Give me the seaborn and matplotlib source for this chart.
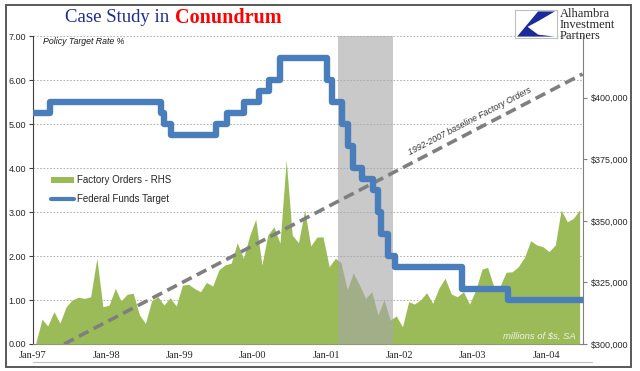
import numpy as np
import pandas as pd
import matplotlib
matplotlib.use("Agg")
import matplotlib.pyplot as plt
import matplotlib.dates as mdates
import matplotlib.ticker as mticker
from matplotlib.patches import Rectangle, Polygon, Patch
from matplotlib.lines import Line2D
import seaborn as sns

# ── Data ──────────────────────────────────────────────────────────────────────
# Monthly factory orders (millions of $, SA), Jan-97 .. Jun-04
factory_orders = [
    300.5, 310.1, 307.3, 313.1, 308.5, 315.1, 317.9, 319.0, 318.5, 319.2, 334.8, 315.1,
    315.8, 322.6, 317.5, 320.2, 320.6, 311.8, 308.4, 317.6, 319.2, 315.8, 318.8, 315.4,
    323.9, 324.2, 322.6, 321.2, 325.0, 323.5, 330.0, 332.1, 332.8, 341.1, 334.8, 343.8,
    350.6, 332.1, 344.2, 347.6, 340.9, 374.7, 344.2, 341.1, 354.4, 339.8, 343.4, 343.5,
    331.4, 334.8, 333.0, 321.9, 328.9, 323.9, 318.5, 321.2, 311.8, 317.9, 309.7, 311.4,
    307.0, 317.2, 316.2, 317.9, 320.8, 316.5, 322.6, 326.7, 320.3, 319.2, 321.2, 316.2,
    321.9, 330.4, 331.1, 323.3, 323.3, 329.1, 329.3, 331.4, 335.2, 341.9, 340.2, 339.5,
    337.5, 340.2, 354.4, 349.6, 351.0, 354.4,
]
factory_orders = [v * 1000 for v in factory_orders]

# Federal funds target rate: change dates and new levels
ff_dates = [
    "1997-01-01", "1997-03-25", "1998-09-29", "1998-10-15", "1998-11-17",
    "1999-06-30", "1999-08-24", "1999-11-16", "2000-02-02", "2000-03-21",
    "2000-05-16", "2001-01-03", "2001-01-31", "2001-03-20", "2001-04-18",
    "2001-05-15", "2001-06-27", "2001-08-21", "2001-09-17", "2001-10-02",
    "2001-11-06", "2001-12-11", "2002-11-06", "2003-06-25", "2004-07-01",
]
ff_rates = [
    5.25, 5.50, 5.25, 5.00, 4.75,
    5.00, 5.25, 5.50, 5.75, 6.00,
    6.50, 6.00, 5.50, 5.00, 4.50,
    4.00, 3.75, 3.50, 3.00, 2.50,
    2.00, 1.75, 1.25, 1.00, 1.00,
]

# 1992-2007 baseline trend for factory orders (two end points)
baseline_dates = ["1997-06-05", "2004-06-30"]
baseline_vals = [300000, 409600]

# NBER recession
recession = ("2001-03-01", "2001-12-01")

left_ticks = [0, 1, 2, 3, 4, 5, 6, 7]
right_ticks = [300000, 325000, 350000, 375000, 400000]

# ── Colours ───────────────────────────────────────────────────────────────────
GREEN = "#9BBB59"
BLUE = "#4A7EBB"
GREY_DASH = "#7F7F7F"

sns.set_style("white")
plt.rcParams["font.family"] = ["Liberation Sans", "DejaVu Sans"]

fo = pd.DataFrame({
    "date": pd.date_range("1997-01-01", periods=len(factory_orders), freq="MS") + pd.Timedelta(days=14),
    "orders": factory_orders,
})
ff = pd.DataFrame({"date": pd.to_datetime(ff_dates), "rate": ff_rates})
base = pd.DataFrame({"date": pd.to_datetime(baseline_dates), "val": baseline_vals})

fig = plt.figure(figsize=(6.4, 3.71), dpi=100)
ax = fig.add_axes([0.0516, 0.0728, 0.859, 0.830])   # left scale: gridlines + ticks
ax2 = ax.twinx()                                     # right scale: orders, shade, baseline
ax3 = ax.twinx()                                     # left scale again: fed funds on top

x0, x1 = pd.Timestamp("1997-01-01"), pd.Timestamp("2004-07-01")

# background grid on the left scale
ax.set_ylim(0, 7)
ax.set_yticks(left_ticks)
ax.yaxis.set_major_formatter(mticker.FormatStrFormatter("%.2f"))
ax.grid(axis="y", color="#A6A6A6", linestyle=(0, (2, 2)), linewidth=0.6)
ax.grid(axis="x", visible=False)

# factory orders area
ax2.fill_between(fo["date"], 300000, fo["orders"], color=GREEN, linewidth=0, zorder=1)
ax2.axvspan(pd.Timestamp(recession[0]), pd.Timestamp(recession[1]),
            color="#A6A6A6", alpha=0.6, linewidth=0, zorder=2)
sns.lineplot(data=base, x="date", y="val", ax=ax2, color=GREY_DASH,
             linewidth=2.6, linestyle=(0, (3, 1.6)), zorder=3)
ax2.set_ylim(300000, 425000)
ax2.set_yticks(right_ticks)
ax2.yaxis.set_major_formatter(mticker.StrMethodFormatter("${x:,.0f}"))
ax2.set_ylabel("")
ax2.text(pd.Timestamp("2002-12-15"), 390400, "1992-2007 baseline Factory Orders",
         rotation=27.5, ha="center", va="center", fontsize=6.3, style="italic",
         color="#333333", zorder=4)

# fed funds target on top
sns.lineplot(data=ff, x="date", y="rate", ax=ax3, color=BLUE, linewidth=4.6,
             drawstyle="steps-post", zorder=5)
ax3.set_ylim(0, 7)
ax3.set_ylabel("")
ax3.set_yticks([])
ax3.set_xlabel("")

for a in (ax, ax2, ax3):
    a.set_xlim(x0, x1)
    a.set_xlabel("")
    for s in a.spines.values():
        s.set_visible(False)

ax.spines["left"].set_visible(True)
ax.spines["left"].set_color("#404040")
ax.spines["bottom"].set_visible(True)
ax.spines["bottom"].set_color("#808080")
ax2.spines["right"].set_visible(True)
ax2.spines["right"].set_color("#808080")

ax.xaxis.set_major_locator(mdates.YearLocator(month=1, day=1))
ax.xaxis.set_minor_locator(mdates.MonthLocator())
ax.xaxis.set_major_formatter(mdates.DateFormatter("%b-%y"))
ax.tick_params(axis="x", which="major", direction="out", length=4, color="#404040",
               labelsize=7.5, pad=1)
ax.tick_params(axis="x", which="minor", direction="out", length=2, color="#808080")
ax.tick_params(axis="y", direction="out", length=3, color="#404040", labelsize=6.5,
               pad=2, left=True)
ax2.tick_params(axis="y", direction="out", length=3, color="#808080", labelsize=6.5,
                pad=3, right=True)
for lbl in ax.get_xticklabels():
    lbl.set_family(["Liberation Serif", "DejaVu Serif"])
ax2.tick_params(axis="x", bottom=False, labelbottom=False)
ax3.tick_params(axis="x", bottom=False, labelbottom=False)

# labels inside the plot
ax3.text(0.018, 0.982, "Policy Target Rate %", transform=ax3.transAxes, fontsize=6.3,
         style="italic", color="#1A1A1A", va="center", ha="left")
ax3.text(0.988, 0.024, "millions of $s, SA", transform=ax3.transAxes, fontsize=6.8,
         style="italic", color="#EEF3E2", va="center", ha="right")

handles = [Patch(facecolor=GREEN, edgecolor="none"),
           Line2D([0], [0], color=BLUE, linewidth=3)]
ax3.legend(handles, ["Factory Orders - RHS", "Federal Funds Target"],
           loc="upper left", bbox_to_anchor=(0.025, 0.560), frameon=False,
           fontsize=7, handlelength=2.4, handleheight=0.6, labelspacing=0.9,
           handletextpad=0.3, borderaxespad=0)

# title
fig.text(169 / 640, 0.952, "Case Study in", ha="right", va="center", fontsize=13.5,
         family=["Liberation Serif"], color="#1F2A8C")
fig.text(175 / 640, 0.952, "Conundrum", ha="left", va="center", fontsize=14.5,
         family=["Liberation Serif"], fontweight="bold", color="#FF0000")

# logo
logo = fig.add_axes([515 / 640, 1 - 38 / 371, 42 / 640, 28 / 371])
logo.set_xlim(0, 1)
logo.set_ylim(0, 1)
logo.set_xticks([])
logo.set_yticks([])
for s in logo.spines.values():
    s.set_color("#BFBFBF")
    s.set_linewidth(0.8)
logo.add_patch(Polygon([[0.05, 0.05], [0.55, 0.95], [0.95, 0.95], [0.55, 0.6],
                        [0.3, 0.4], [0.55, 0.12], [0.95, 0.05]],
                       closed=True, facecolor="#1A2A9A", edgecolor="none"))
fig.text(560 / 640, 1 - 25 / 371, "Alhambra\nInvestment\nPartners", ha="left",
         va="center", fontsize=9, linespacing=0.9,
         family=["Liberation Serif"], color="#262626")

# outer frame + rule under the axis labels
fig.add_artist(Rectangle((6 / 640, 4 / 371), 625 / 640, 362 / 371,
                         transform=fig.transFigure, fill=False,
                         edgecolor="#595959", linewidth=1.4))
fig.add_artist(Line2D([33 / 640, 592 / 640], [1 - 362 / 371, 1 - 362 / 371],
                      transform=fig.transFigure, color="#BFBFBF", linewidth=0.8))

fig.savefig("out.png", dpi=100)
